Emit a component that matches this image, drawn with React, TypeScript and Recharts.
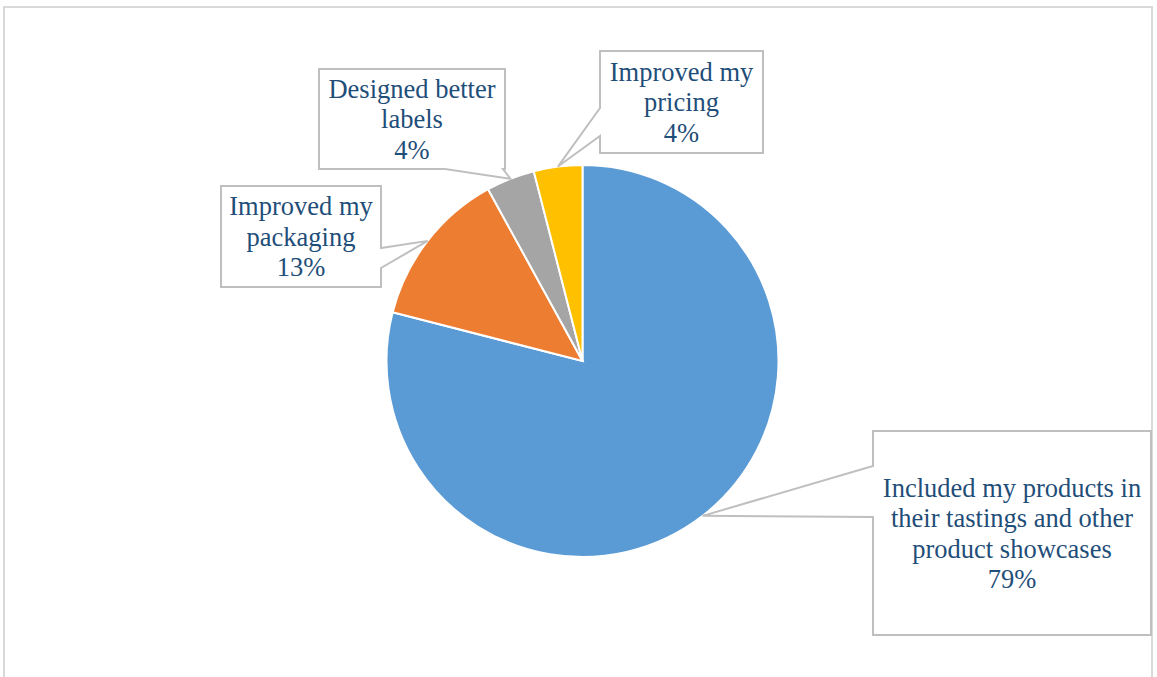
import { Cell, Pie, PieChart } from 'recharts';

const categories = [
	'Included my products in\ntheir tastings and other\nproduct showcases',
	'Improved my\npackaging',
	'Designed better\nlabels',
	'Improved my\npricing',
];
const shares = [79, 13, 4, 4];
const colors = ['#5B9BD5', '#ED7D31', '#A5A5A5', '#FFC000'];

// callout boxes, relative to pie centre
const boxes = [
	{ dx: 290.5, dy: 70, w: 278, h: 204, side: 'left', a: 35, b: 86 },
	{ dx: -361.5, dy: -175, w: 160, h: 101, side: 'right', a: 62, b: 82 },
	{ dx: -263.5, dy: -292, w: 186, h: 100, side: 'bottom', a: 126, b: 184 },
	{ dx: 17.5, dy: -310, w: 163, h: 102, side: 'left', a: 57, b: 85 },
];

const data = categories.map((name, i) => ({ name, value: shares[i] }));

const RAD = Math.PI / 180;
const SERIF = 'Liberation Serif, DejaVu Serif, serif';

const renderCallout = (props: any) => {
	const { cx, cy, midAngle, outerRadius, index, percent, name } = props;
	const box = boxes[index];
	const tx = cx + outerRadius * Math.cos(-midAngle * RAD);
	const ty = cy + outerRadius * Math.sin(-midAngle * RAD);
	const x0 = cx + box.dx;
	const y0 = cy + box.dy;
	const x1 = x0 + box.w;
	const y1 = y0 + box.h;
	let pts: number[][];
	if (box.side === 'left') {
		pts = [[x0, y0], [x1, y0], [x1, y1], [x0, y1], [x0, y0 + box.b], [tx, ty], [x0, y0 + box.a]];
	} else if (box.side === 'right') {
		pts = [[x0, y0], [x1, y0], [x1, y0 + box.a], [tx, ty], [x1, y0 + box.b], [x1, y1], [x0, y1]];
	} else {
		pts = [[x0, y0], [x1, y0], [x1, y1], [x0 + box.b, y1], [tx, ty], [x0 + box.a, y1], [x0, y1]];
	}
	const d = pts.map((p, i) => (i ? 'L' : 'M') + p[0] + ',' + p[1]).join(' ') + ' Z';
	const lines = [...String(name).split('\n'), Math.round(percent * 100) + '%'];
	const lh = 30.5;
	const midY = y0 + box.h / 2;
	const startY = midY - ((lines.length - 1) * lh) / 2;
	return (
		<g key={'callout-' + index}>
			<path d={d} fill="#ffffff" stroke="#BFBFBF" strokeWidth={2} />
			{lines.map((l, i) => (
				<text
					key={i}
					x={(x0 + x1) / 2}
					y={startY + i * lh}
					dy="0.35em"
					textAnchor="middle"
					fill="#1F4E79"
					fontFamily={SERIF}
					fontSize={26.5}
					style={{ fontFamily: SERIF, fontSize: 26.5 }}
				>
					{l}
				</text>
			))}
		</g>
	);
};

export default function App() {
	return (
		<div style={{ position: 'absolute', left: 0, top: 0, width: 1157, height: 677, background: '#fff', overflow: 'hidden' }}>
			<div
				style={{
					position: 'absolute',
					left: 3,
					top: 6,
					width: 1150,
					height: 690,
					border: '2px solid #D9D9D9',
					boxSizing: 'border-box',
				}}
			/>
			<PieChart
				width={1157}
				height={677}
				margin={{ top: 0, right: 0, bottom: 0, left: 0 }}
				style={{ position: 'absolute', left: 0, top: 0 }}
			>
				<Pie
					data={data}
					dataKey="value"
					nameKey="name"
					cx={582.5}
					cy={361}
					outerRadius={196}
					startAngle={90}
					endAngle={-270}
					stroke="#ffffff"
					strokeWidth={2}
					label={renderCallout}
					labelLine={false}
					isAnimationActive={false}
				>
					{data.map((d, i) => (
						<Cell key={d.name} fill={colors[i]} />
					))}
				</Pie>
			</PieChart>
		</div>
	);
}
